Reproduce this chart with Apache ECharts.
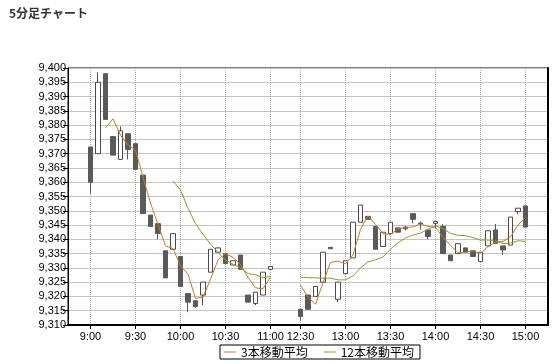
<!DOCTYPE html>
<html>
<head>
<meta charset="utf-8">
<script src="https://cdn.jsdelivr.net/npm/echarts@6/dist/echarts.min.js"></script>
<style>
html,body{margin:0;padding:0;background:#fff;}
#c{width:558px;height:364px;}
</style>
</head>
<body>
<div id="c"></div>
<script>
var categories = ["8:45","8:50","8:55",
 "9:00","9:05","9:10","9:15","9:20","9:25","9:30","9:35","9:40","9:45","9:50","9:55",
 "10:00","10:05","10:10","10:15","10:20","10:25","10:30","10:35","10:40","10:45","10:50","10:55","11:00",
 "11:05","11:10","11:15",
 "12:30","12:35","12:40","12:45","12:50","12:55","13:00","13:05","13:10","13:15","13:20","13:25",
 "13:30","13:35","13:40","13:45","13:50","13:55","14:00","14:05","14:10","14:15","14:20","14:25",
 "14:30","14:35","14:40","14:45","14:50","14:55","15:00",
 "15:05","15:10","15:15"];

var tickLabels = ["9:00","9:30","10:00","10:30","11:00","12:30","13:00","13:30","14:00","14:30","15:00"];

var openP = [null,null,null,
 9372.3,9370,9398,9376,9368,9377,9373.5,9362.5,9348.5,9345.5,9336,9336.5,9334,9321,9318.5,9320.5,9328.5,9335.5,9335,9331,9334.5,9320.5,9317.5,9320.5,9329.5,
 null,null,null,
 9315.5,9320.5,9320,9325,9337.2,9319,9328,9333.5,9346,9348,9344.5,9337.5,9342,9344,9344.3,9349,9345.7,9343.3,9345.6,9344.5,9334.5,9335,9337,9336,9332.2,9337.7,9343.3,9337.7,9338,9349.7,9351.7,
 null,null,null];

var closeP = [null,null,null,
 9360,9395,9382,9369.5,9378,9371.5,9364.5,9349,9344.5,9342,9326.5,9342,9323.5,9318,9316.5,9325,9336.5,9337,9331.5,9332.5,9329.5,9318,9321.5,9328.5,9330.5,
 null,null,null,
 9313,9315.5,9323.5,9335.5,9336.7,9325,9332.5,9346,9352,9347,9336.5,9342.5,9346,9342.5,9343.7,9347,9345.5,9341,9346.2,9335,9332.5,9338.5,9335.5,9334,9335.5,9343,9338.6,9336.3,9347.8,9350.9,9344.3,
 null,null,null];

var lowP = [null,null,null,
 9356,9370,9382,9369.5,9368,9368,9364.5,9349,9344.5,9340,9326.5,9336.5,9323.5,9314.5,9316,9317,9328.5,9335.5,9331.5,9331,9329.5,9318,9317,9320.5,9329.5,
 null,null,null,
 9311.5,9315.5,9320,9325,9336.7,9318,9328,9333.5,9346,9347,9336.5,9337.5,9342,9342.5,9343.1,9345.6,9343.4,9340,9343.8,9335,9332.5,9335,9335.5,9334,9332.2,9337.7,9338.6,9334.5,9338,9348.8,9344.3,
 null,null,null];

var highP = [null,null,null,
 9372.3,9398.5,9398,9376,9379.5,9377,9373.5,9362.5,9348.5,9345.5,9336,9342,9334,9321,9318.5,9325,9336.5,9337,9335,9332.5,9334.5,9320.5,9321.5,9328.5,9330.5,
 null,null,null,
 9315.5,9320.5,9323.5,9335.5,9337.2,9325,9332.5,9346,9352,9348,9344.5,9342.5,9346,9344,9344.7,9349,9346.2,9343.3,9346.2,9345.3,9334.5,9338.5,9337,9336,9335.5,9343,9345.4,9337.7,9347.8,9350.9,9351.7,
 null,null,null];

var ma3 = [null,null,null,
 null,null,9379.0,9382.2,9376.5,9373.0,9371.3,9361.7,9352.7,9345.2,9337.7,9336.8,9330.7,9327.8,9319.3,9319.8,9326.0,9332.8,9335.0,9333.7,9331.2,9326.7,9323.0,9322.7,9326.8,
 null,null,null,
 9324.0,9319.7,9317.3,9324.8,9331.9,9332.4,9331.4,9334.5,9343.5,9348.3,9345.2,9342.0,9341.7,9343.7,9344.1,9344.4,9345.4,9344.5,9344.2,9340.7,9337.9,9335.3,9335.5,9336.0,9335.0,9337.5,9339.0,9339.3,9340.9,9345.0,9347.7,
 null,null,null];

var ma12 = [null,null,null,
 null,null,null,null,null,null,null,null,null,null,null,9360.4,9357.3,9350.9,9345.5,9341.8,9338.3,9335.4,9332.7,9331.3,9330.0,9328.0,9327.6,9326.5,9327.1,
 null,null,null,
 9326.7,9326.6,9326.5,9326.4,9326.4,9325.8,9325.8,9327.2,9330.0,9332.1,9332.8,9333.8,9336.6,9338.8,9340.5,9341.5,9342.2,9343.5,9344.7,9343.7,9342.1,9341.4,9341.3,9340.6,9339.7,9339.8,9339.4,9338.5,9338.7,9339.5,9339.3,
 null,null,null];

var seriesNames = ["3本移動平均","12本移動平均"];

var candleData = categories.map(function(c, i){
  return openP[i] == null ? '-' : [openP[i], closeP[i], lowP[i], highP[i]];
});

function isTick(index, value){ return tickLabels.indexOf(value) >= 0; }

var numFont = "'Liberation Sans', Arial, sans-serif";
var jpFont = "'Noto Sans CJK JP', sans-serif";

var chart = echarts.init(document.getElementById('c'), null, {renderer:'canvas'});
chart.setOption({
  animation: false,
  backgroundColor: '#fff',
  title: {
    text: '5分足チャート', left: 4, top: 2,
    textStyle: {fontSize: 12, fontWeight: 'bold', color: '#333', fontFamily: jpFont}
  },
  legend: {
    data: seriesNames,
    left: 220, top: 345,
    icon: 'rect', itemWidth: 12, itemHeight: 1, itemGap: 16,
    padding: [0, 6, 0, 4],
    borderColor: '#000', borderWidth: 1,
    textStyle: {fontSize: 12, color: '#000', fontFamily: jpFont, lineHeight: 14, padding: [0,0,0,0]}
  },
  grid: {left: 68, right: 10, top: 68, bottom: 39, show: true, borderColor: '#000', borderWidth: 1, backgroundColor: 'transparent'},
  xAxis: {
    type: 'category', data: categories, boundaryGap: false,
    axisLine: {lineStyle: {color: '#000', width: 2}},
    axisTick: {show: true, interval: isTick, length: 4, lineStyle: {color: '#000'}},
    axisLabel: {interval: isTick, color: '#000', fontSize: 11, fontFamily: numFont, margin: 6},
    splitLine: {show: true, interval: isTick, lineStyle: {color: '#a8a8a8', type: 'dotted', width: 1}}
  },
  yAxis: [{
    type: 'value', min: 9310, max: 9400, interval: 5, scale: true,
    axisLine: {show: true, lineStyle: {color: '#000', width: 1}},
    axisTick: {show: true, length: 5, lineStyle: {color: '#000'}},
    axisLabel: {color: '#000', fontSize: 11, fontFamily: numFont, margin: 2,
      formatter: function(v){ return v.toLocaleString('en-US'); }},
    splitLine: {show: true, lineStyle: {color: '#c4c4c4', width: 1}}
  },{
    type: 'value', min: 9310, max: 9400, interval: 5, position: 'right',
    axisLine: {show: true, lineStyle: {color: '#000', width: 2}},
    axisTick: {show: false}, axisLabel: {show: false}, splitLine: {show: false}
  }],
  series: [{
    type: 'candlestick', data: candleData, barWidth: 5,
    itemStyle: {color: '#ffffff', color0: '#5a5a5a', borderColor: '#4a4a4a', borderColor0: '#5a5a5a', borderWidth: 1},
    z: 2
  },{
    name: seriesNames[0], type: 'line', data: ma3, showSymbol: false, symbol: 'none',
    connectNulls: false, lineStyle: {color: '#c97a25', width: 1}, itemStyle: {color: '#c97a25'}, z: 3
  },{
    name: seriesNames[1], type: 'line', data: ma12, showSymbol: false, symbol: 'none',
    connectNulls: false, lineStyle: {color: '#8f9a3a', width: 1}, itemStyle: {color: '#8f9a3a'}, z: 3
  }]
});
</script>
</body>
</html>
